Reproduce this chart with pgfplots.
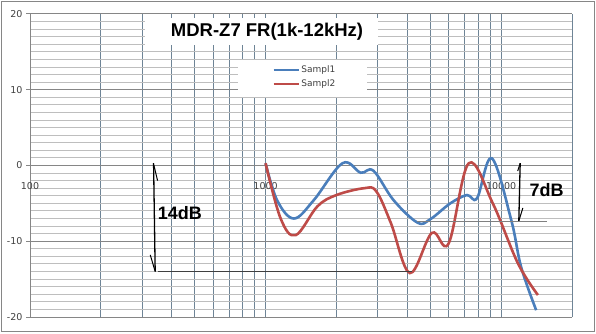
\documentclass[border=0pt]{standalone}
\usepackage{fontspec}
\setmainfont{Liberation Sans}
\newfontfamily\tickfont{DejaVu Sans}
\usepackage{pgfplots}
\pgfplotsset{compat=1.18}
\definecolor{sblue}{HTML}{4A7EBB}
\definecolor{sred}{HTML}{BE4B48}
\definecolor{vgrid}{HTML}{6E8496}
\definecolor{hmajor}{HTML}{868686}
\definecolor{hminor}{HTML}{BEBEBE}
\definecolor{axgray}{HTML}{868686}
\definecolor{tickgray}{HTML}{404040}
\begin{document}
\begin{tikzpicture}
\useasboundingbox (-30pt,-17pt) rectangle (566pt,317pt);
\draw[axgray, line width=0.9pt] (-29pt,-14pt) rectangle (564pt,316pt);
\begin{axis}[
  at={(0pt,0pt)}, anchor=south west,
  scale only axis, width=542pt, height=303pt,
  xmode=log, xmin=100, xmax=20000, ymin=-20, ymax=20,
  xtick={100,1000,10000}, xticklabels={100,1000,10000},
  minor xtick={200,300,400,500,600,700,800,900,2000,3000,4000,5000,6000,7000,8000,9000,20000},
  ytick={-20,-10,0,10,20}, yticklabels={-20,-10,0,10,20},
  minor ytick={-19,-18,-17,-16,-15,-14,-13,-12,-11,-9,-8,-7,-6,-5,-4,-3,-2,-1,1,2,3,4,5,6,7,8,9,11,12,13,14,15,16,17,18,19},
  grid=both,
  major x grid style={draw=vgrid, line width=1pt},
  minor x grid style={draw=vgrid, line width=1pt},
  major y grid style={draw=hmajor, line width=1pt},
  minor y grid style={draw=hminor, line width=1pt},
  axis x line=bottom, axis y line=left,
  x axis line style={draw=none},
  y axis line style={draw=axgray, line width=1pt, -},
  xtick style={draw=none}, ytick style={draw=axgray, line width=1pt},
  tick align=outside, major tick length=4pt, minor tick length=0pt,
  tick label style={font=\tickfont\fontsize{9.5}{11}\selectfont, text=tickgray},
  xticklabel style={anchor=center, yshift=134.5pt},
  yticklabel style={anchor=east},
  legend image code/.code={\draw[#1] (0pt,0pt) -- (25pt,0pt);},
  legend cell align=left,
  legend style={draw=none, fill=none, at={(axis description cs:0.4465,0.835)}, anchor=north west,
    inner sep=0pt, row sep=3pt,
    nodes={inner sep=1.5pt, font=\tickfont\fontsize{9}{10}\selectfont, text=tickgray}},
]
\fill[white] (rel axis cs:0.2122,0.8977) rectangle (rel axis cs:0.6421,0.9868);
\fill[white] (rel axis cs:0.3838,0.7261) rectangle (rel axis cs:0.6218,0.8482);

\addplot[sblue, line width=2.6pt, smooth, tension=0.6] coordinates {
(1000,0.3) (1120,-4.6) (1319,-7.0) (1600,-4.6) (2121,0.3) (2535,-0.95) (2872,-0.7)
(3500,-4.6) (4421,-7.55) (5000,-7.1) (6085,-5.0) (7163,-3.9) (7910,-4.3) (9130,0.95)
(11040,-7.2) (12160,-13.4) (14090,-19.1)};
\addlegendentry{Sampl1}
\addplot[sred, line width=2.6pt, smooth, tension=0.6] coordinates {
(1000,0.3) (1159,-7.0) (1342,-9.2) (1660,-5.4) (2000,-3.9) (2620,-3.0) (2950,-3.4)
(3405,-7.6) (4100,-14.2) (5082,-8.9) (5985,-10.3) (7290,0.3) (9220,-5.0)
(11780,-12.9) (14330,-17.1)};
\addlegendentry{Sampl2}

% annotations
\addplot[black, line width=1.3pt, forget plot] coordinates {(334.7,0.3) (340,-14.0)};
\addplot[black, line width=1pt, forget plot] coordinates {(336,0.0) (348,-2.0)};
\addplot[black, line width=1pt, forget plot] coordinates {(324,-11.8) (340,-14.0)};
\addplot[tickgray, line width=0.9pt, forget plot] coordinates {(348,-14.0) (4178,-14.0)};
\addplot[black, line width=1.3pt, forget plot] coordinates {(12050,0.3) (11890,-7.33)};
\addplot[black, line width=1pt, forget plot] coordinates {(12050,0.3) (11760,-0.73)};
\addplot[black, line width=1pt, forget plot] coordinates {(12370,-5.6) (11890,-7.33)};
\addplot[gray, line width=1.2pt, forget plot] coordinates {(4391,-7.42) (15690,-7.42)};

\node[font=\bfseries\fontsize{18}{20}\selectfont] at (axis cs:432.5,-6.27) {14dB};
\node[font=\bfseries\fontsize{18}{20}\selectfont] at (axis cs:15620,-3.24) {7dB};
\node[font=\bfseries\fontsize{18.5}{20}\selectfont] at (rel axis cs:0.4373,0.9406) {MDR-Z7 FR(1k-12kHz)};
\end{axis}
\end{tikzpicture}
\end{document}
